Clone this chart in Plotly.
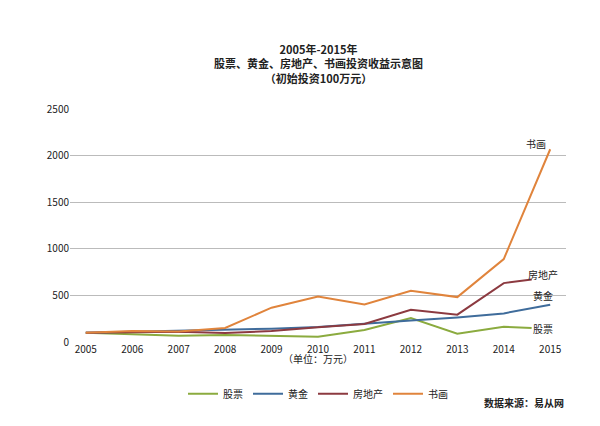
import plotly.graph_objects as go

years = [2005, 2006, 2007, 2008, 2009, 2010, 2011, 2012, 2013, 2014]
x_short = years + [2014.6]
x_full = years + [2015]

stocks = [100, 86, 68, 75, 64, 57, 129, 257, 89, 164, 150]
gold = [100, 110, 115, 125, 143, 160, 200, 232, 264, 307, 400]
realty = [100, 104, 111, 96, 118, 157, 193, 346, 293, 632, 671]
art = [100, 118, 114, 150, 368, 489, 403, 550, 482, 890, 2068]

series = [
    ('股票', x_short, stocks, '#8bab3f'),
    ('黄金', x_full, gold, '#3f6c9b'),
    ('房地产', x_short, realty, '#8c3a40'),
    ('书画', x_full, art, '#e0843c'),
]

fig = go.Figure()
for name, xs, ys, color in series:
    fig.add_trace(go.Scatter(x=xs, y=ys, name=name, mode='lines',
                             line=dict(color=color, width=2)))

labels = [('书画', 2014.7, 2130), ('房地产', 2014.85, 720), ('黄金', 2014.85, 500), ('股票', 2014.85, 150)]
for text, lx, ly in labels:
    fig.add_annotation(x=lx, y=ly, text=text, showarrow=False, font=dict(size=10, color='#222'))

fig.add_annotation(x=0.5, y=1.3, xref='paper', yref='paper', showarrow=False,
                   text='<b>2005年-2015年<br>股票、黄金、房地产、书画投资收益示意图<br>（初始投资100万元）</b>',
                   font=dict(size=11, color='#222'))
fig.add_annotation(x=0.5, y=-0.11, xref='paper', yref='paper', showarrow=False,
                   text='（单位：万元）', font=dict(size=10, color='#222'))
fig.add_annotation(x=1.0, y=-0.3, xref='paper', yref='paper', showarrow=False, xanchor='right',
                   text='<b>数据来源：易从网</b>', font=dict(size=10, color='#222'))

fig.update_layout(
    width=600, height=426,
    margin=dict(l=62, r=42, t=101, b=92),
    plot_bgcolor='white', paper_bgcolor='white',
    font=dict(family='Noto Sans CJK SC', size=10, color='#222'),
    legend=dict(orientation='h', x=0.5, xanchor='center', y=-0.16, yanchor='top',
                font=dict(size=10)),
    xaxis=dict(range=[2004.66, 2015.34], tickvals=list(range(2005, 2016)),
               showgrid=False, zeroline=False, tickfont=dict(size=10)),
    yaxis=dict(range=[0, 2500], dtick=500, gridcolor='#bbbbbb', zeroline=False,
               showline=False, tickfont=dict(size=10)),
    showlegend=True,
)
fig.write_html('out.html')
